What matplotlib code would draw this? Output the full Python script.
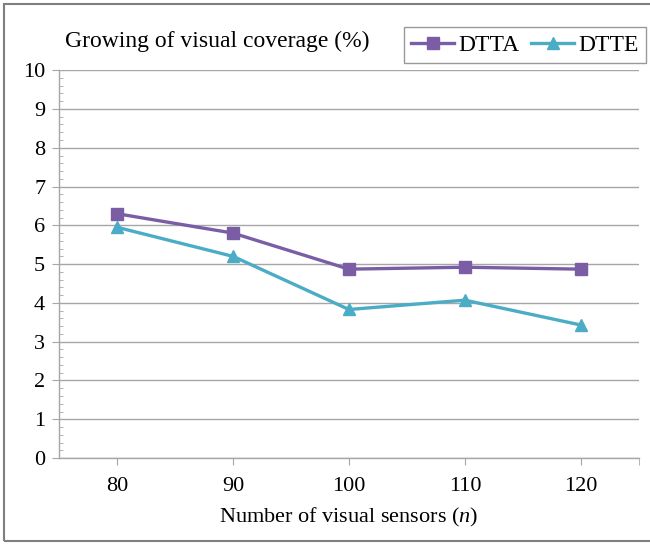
import matplotlib.pyplot as plt
from matplotlib.patches import Rectangle
from matplotlib.ticker import MultipleLocator, FixedLocator

sensors = [80, 90, 100, 110, 120]
dtta = [6.3, 5.8, 4.87, 4.92, 4.87]
dtte = [5.95, 5.2, 3.83, 4.07, 3.43]

purple = '#7B5DA6'
cyan = '#4BACC6'
grid_gray = '#A6A6A6'

plt.rcParams['font.family'] = ['Liberation Serif', 'DejaVu Serif']
plt.rcParams['mathtext.fontset'] = 'custom'
plt.rcParams['mathtext.rm'] = 'Liberation Serif'
plt.rcParams['mathtext.it'] = 'Liberation Serif:italic'

fig = plt.figure(figsize=(6.5, 5.44), dpi=100, facecolor='white')
ax = fig.add_axes([0.0908, 0.158, 0.892, 0.713])

ax.plot(sensors, dtta, color=purple, lw=2.4, marker='s', ms=9,
        mfc=purple, mec=purple, label='DTTA', zorder=3)
ax.plot(sensors, dtte, color=cyan, lw=2.4, marker='^', ms=9,
        mfc=cyan, mec=cyan, label='DTTE', zorder=3)

ax.set_xlim(75, 125)
ax.set_ylim(0, 10)
ax.set_xticks(sensors)
ax.xaxis.set_minor_locator(FixedLocator([125]))
ax.yaxis.set_major_locator(MultipleLocator(1))
ax.yaxis.set_minor_locator(MultipleLocator(0.2))

ax.grid(axis='y', color=grid_gray, lw=1)
ax.set_axisbelow(True)
for side in ['top', 'right']:
    ax.spines[side].set_visible(False)
for side in ['left', 'bottom']:
    ax.spines[side].set_color(grid_gray)
    ax.spines[side].set_linewidth(1)

ax.tick_params(axis='y', which='major', direction='out', length=5,
               color=grid_gray, labelsize=16, pad=5)
ax.tick_params(axis='y', which='minor', direction='in', length=3,
               color=grid_gray)
ax.tick_params(axis='x', which='both', direction='out', length=5,
               color=grid_gray, labelsize=16, pad=9)

ax.set_xlabel('Number of visual sensors ($n$)', fontsize=16, labelpad=7)

fig.text(0.1, 0.923, 'Growing of visual coverage (%)', fontsize=17,
         ha='left', va='center')

leg = fig.legend(loc='center', bbox_to_anchor=(0.808, 0.917), ncol=2,
                 fontsize=17, frameon=True, fancybox=False,
                 edgecolor='#808080', handlelength=1.8, handletextpad=0.2,
                 columnspacing=0.5, borderpad=0.3)
leg.get_frame().set_linewidth(1)

# outer frame around the whole chart
fig.patches.append(Rectangle((0.006, 0.006), 1.2, 0.986,
                             transform=fig.transFigure, fill=False,
                             edgecolor='#7F7F7F', lw=1.5))

fig.savefig('out.png', dpi=100)
